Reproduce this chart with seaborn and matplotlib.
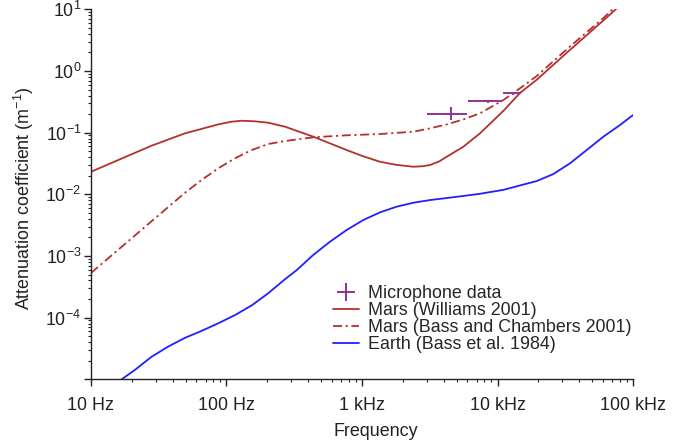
import numpy as np
import pandas as pd
import seaborn as sns
import matplotlib
matplotlib.use('Agg')
import matplotlib.pyplot as plt
from matplotlib.ticker import LogLocator, FixedLocator, FixedFormatter, NullFormatter

# Valores (frequência em Hz, atenuação em 1/m)

freq_williams = [10, 15.9, 28, 49.4, 87, 108, 129, 160, 203, 270, 437, 771, 1000, 1358,
                 1800, 2393, 2800, 3180, 3700, 4220, 5600, 7430, 11040, 14650, 19460,
                 34270, 60400, 80000]
att_williams = [0.0232, 0.036, 0.0614, 0.0975, 0.136, 0.150, 0.156, 0.153, 0.145, 0.125,
                0.086, 0.0522, 0.042, 0.0337, 0.030, 0.028, 0.0285, 0.0299, 0.034,
                0.0407, 0.0592, 0.0975, 0.225, 0.44, 0.72, 2.2, 6.6, 11.5]

freq_bass = [10, 49.4, 65.6, 87, 115.6, 153.5, 203, 270, 437, 771, 1358, 2393, 3180,
             4220, 5600, 7430, 11040, 14650, 19460, 34270, 60400, 80000]
att_bass = [5.3e-4, 0.0106, 0.0171, 0.0264, 0.0384, 0.0522, 0.0653, 0.0731, 0.084,
            0.0906, 0.095, 0.1035, 0.1175, 0.136, 0.164, 0.206, 0.338, 0.524, 0.828,
            2.5, 7.2, 13.0]

freq_earth = [15, 16.85, 21.1, 28, 37.2, 49.4, 65.6, 87, 115.6, 153.5, 203, 270, 330,
              437, 580, 771, 1023, 1358, 1803, 2393, 3180, 4220, 5600, 7430, 11040,
              19460, 25800, 34270, 45500, 60400, 80200, 100000]
att_earth = [8.4e-6, 1.0e-5, 1.42e-5, 2.32e-5, 3.4e-5, 4.7e-5, 6.1e-5, 8.1e-5,
             1.1e-4, 1.58e-4, 2.48e-4, 4.19e-4, 5.9e-4, 1.04e-3, 1.70e-3, 2.64e-3,
             3.83e-3, 5.1e-3, 6.3e-3, 7.3e-3, 8.07e-3, 8.7e-3, 9.4e-3, 0.0102, 0.0118,
             0.0164, 0.0213, 0.0318, 0.0522, 0.086, 0.133, 0.193]

mic_freq = [4540, 8550, 13090]
mic_f_lo = [3000, 6030, 11040]
mic_f_hi = [5980, 10740, 14830]
mic_att = [0.200, 0.330, 0.435]
mic_a_lo = [0.160, 0.300, 0.410]
mic_a_hi = [0.258, 0.340, 0.460]

x_ticks = [10, 100, 1000, 10000, 100000]
x_tick_labels = ['10 Hz', '100 Hz', '1 kHz', '10 kHz', '100 kHz']
y_ticks = [1e-5, 1e-4, 1e-3, 1e-2, 1e-1, 1e0, 1e1]
y_tick_labels = ['', r'$\mathdefault{10^{-4}}$', r'$\mathdefault{10^{-3}}$',
                 r'$\mathdefault{10^{-2}}$', r'$\mathdefault{10^{-1}}$',
                 r'$\mathdefault{10^{0}}$', r'$\mathdefault{10^{1}}$']

labels = ['Microphone data', 'Mars (Williams 2001)',
          'Mars (Bass and Chambers 2001)', 'Earth (Bass et al. 1984)']

mars_color = '#b52f2c'
earth_color = '#1f1fff'
mic_color = '#952f95'

sns.set_style('ticks')
plt.rcParams['font.family'] = ['Liberation Sans', 'DejaVu Sans']
plt.rcParams['mathtext.fontset'] = 'custom'
plt.rcParams['mathtext.rm'] = 'Liberation Sans'
plt.rcParams['font.size'] = 12.9

fig = plt.figure(figsize=(6.73, 4.42), dpi=100)
ax = fig.add_axes([0.1352, 0.1419, 0.8054, 0.837])

sns.lineplot(x=freq_williams, y=att_williams, ax=ax, color=mars_color, lw=1.3,
             label=labels[1])
sns.lineplot(x=freq_bass, y=att_bass, ax=ax, color=mars_color, lw=1.3,
             linestyle=(0, (5, 2, 1.2, 2)), label=labels[2])
sns.lineplot(x=freq_earth, y=att_earth, ax=ax, color=earth_color, lw=1.3,
             label=labels[3])

mf = np.array(mic_freq)
ma = np.array(mic_att)
xerr = [mf - np.array(mic_f_lo), np.array(mic_f_hi) - mf]
yerr = [ma - np.array(mic_a_lo), np.array(mic_a_hi) - ma]
eb = ax.errorbar(mf, ma, xerr=xerr, yerr=yerr, fmt='none', ecolor=mic_color,
                 elinewidth=1.4, capsize=0, label=labels[0])

ax.set_xscale('log')
ax.set_yscale('log')
ax.set_xlim(10, 100000)
ax.set_ylim(1e-5, 10)

ax.xaxis.set_major_locator(FixedLocator(x_ticks))
ax.xaxis.set_major_formatter(FixedFormatter(x_tick_labels))
ax.xaxis.set_minor_locator(LogLocator(base=10, subs=np.arange(2, 10), numticks=20))
ax.xaxis.set_minor_formatter(NullFormatter())
ax.yaxis.set_major_locator(FixedLocator(y_ticks))
ax.yaxis.set_major_formatter(FixedFormatter(y_tick_labels))
ax.yaxis.set_minor_locator(LogLocator(base=10, subs=np.arange(2, 10), numticks=20))
ax.yaxis.set_minor_formatter(NullFormatter())

ax.tick_params(which='major', direction='out', length=5, width=1, color='#222222',
               labelsize=12.9, labelcolor='#222222')
ax.tick_params(which='minor', direction='out', length=2.5, width=0.8, color='#222222')
ax.tick_params(axis='x', which='major', pad=8)
ax.tick_params(axis='y', which='major', pad=2)

for s in ['left', 'bottom']:
    ax.spines[s].set_color('#222222')
    ax.spines[s].set_linewidth(1.0)
sns.despine(ax=ax)

ax.set_xlabel('Frequency', fontsize=12.9, color='#222222')
ax.set_ylabel(r'Attenuation coefficient (m$^{\mathdefault{-1}}$)', fontsize=12.9,
              color='#222222')
ax.xaxis.set_label_coords(0.526, -0.118)
ax.yaxis.set_label_coords(-0.101, 0.49)

handles, labs = ax.get_legend_handles_labels()
order = [labs.index(l) for l in labels]
ax.legend([handles[i] for i in order], [labs[i] for i in order], frameon=False,
          loc='upper left', bbox_to_anchor=(333 / 673, 1 - 285 / 442),
          bbox_transform=fig.transFigure, borderpad=0, borderaxespad=0,
          handlelength=1.45, handletextpad=0.5, labelspacing=0.0, fontsize=12.9)

fig.savefig('out.png', dpi=100)
